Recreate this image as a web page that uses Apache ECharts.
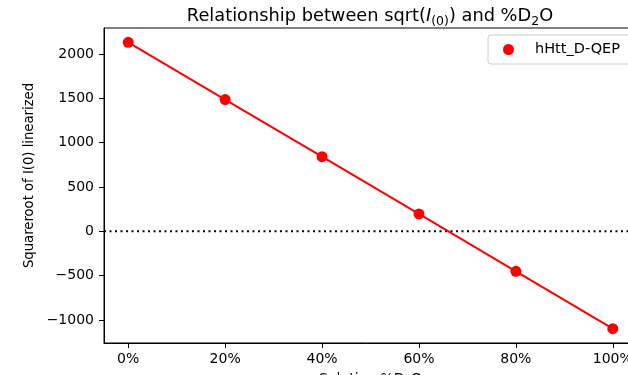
<!DOCTYPE html>
<html>
<head>
<meta charset="utf-8">
<script src="https://cdn.jsdelivr.net/npm/echarts@6/dist/echarts.min.js"></script>
<style>
  html, body { margin: 0; padding: 0; background: #fff; }
  #chart { width: 628px; height: 375px; }
</style>
</head>
<body>
<div id="chart"></div>
<script>
// D2O content of the solution (%) and the linearised sqrt(I(0)) values
const d2oPercent = [0, 20, 40, 60, 80, 100];
const sqrtI0 = [2130, 1485, 842, 196, -450, -1097];
const seriesName = 'hHtt_D-QEP';
const xTicks = [0, 20, 40, 60, 80, 100];
const yTicks = [-1000, -500, 0, 500, 1000, 1500, 2000];
const xRange = [-5, 105];
const yRange = [-1258, 2292];

const font = 'DejaVu Sans';
const points = d2oPercent.map((x, i) => [x, sqrtI0[i]]);

const chart = echarts.init(document.getElementById('chart'), null, { renderer: 'canvas' });
chart.setOption({
  animation: false,
  backgroundColor: '#fff',
  textStyle: { fontFamily: font },
  title: {
    text: '{n|Relationship between sqrt(}{i|I}{s|(0)}{n|) and %D}{s|2}{n|O}',
    left: 365,
    textAlign: 'center',
    top: 0,
    textStyle: {
      fontWeight: 'normal',
      rich: {
        n: { fontFamily: font, fontSize: 17.8, fontWeight: 'normal', color: '#000', lineHeight: 23 },
        i: { fontFamily: font, fontSize: 17.8, fontWeight: 'normal', fontStyle: 'italic', color: '#000', lineHeight: 23 },
        s: { fontFamily: font, fontSize: 12.5, fontWeight: 'normal', color: '#000', lineHeight: 23, padding: [10, 0, 0, 0] }
      }
    }
  },
  legend: {
    left: 488,
    top: 35,
    data: [seriesName],
    icon: 'circle',
    itemWidth: 11,
    itemHeight: 11,
    padding: [7, 200, 7, 15],
    backgroundColor: '#fff',
    borderColor: '#cccccc',
    borderWidth: 1,
    borderRadius: 3,
    textStyle: { fontFamily: font, fontSize: 14.5, color: '#000', padding: [0, 0, 0, 16] }
  },
  grid: {
    left: 104, top: 28, right: -9, bottom: 32,
    outerBoundsMode: 'none',
    containLabel: false,
    show: true, borderColor: '#000', borderWidth: 1, backgroundColor: 'transparent'
  },
  xAxis: {
    type: 'value',
    min: xRange[0], max: xRange[1],
    name: 'Solution %D{s|2}O',
    nameLocation: 'middle',
    nameGap: 28,
    nameTextStyle: {
      fontFamily: font, fontSize: 14, color: '#000',
      rich: { s: { fontFamily: font, fontSize: 10, color: '#000', padding: [7, 0, 0, 0] } }
    },
    splitLine: { show: false },
    axisLine: { show: true, onZero: false, lineStyle: { color: '#000', width: 1 } },
    axisTick: { show: true, length: 5, customValues: xTicks, lineStyle: { color: '#000' } },
    axisLabel: {
      customValues: xTicks, margin: 9,
      fontFamily: font, fontSize: 14, color: '#000',
      formatter: v => v + '%'
    }
  },
  yAxis: {
    type: 'value',
    min: yRange[0], max: yRange[1],
    name: 'Squareroot of I(0) linearized',
    nameLocation: 'middle',
    nameGap: 64,
    nameTextStyle: { fontFamily: font, fontSize: 13.2, color: '#000', padding: [0, 0, 0, 20] },
    splitLine: { show: false },
    axisLine: { show: true, onZero: false, lineStyle: { color: '#000', width: 1 } },
    axisTick: { show: true, length: 5, customValues: yTicks, lineStyle: { color: '#000' } },
    axisLabel: {
      customValues: yTicks, margin: 10,
      fontFamily: font, fontSize: 14, color: '#000',
      formatter: v => (v < 0 ? '\u2212' + Math.abs(v) : String(v))
    }
  },
  series: [
    {
      // zero reference line across the full width
      type: 'line',
      data: [[xRange[0], 0], [xRange[1], 0]],
      symbol: 'none',
      silent: true,
      lineStyle: { color: '#000', width: 2, type: [2, 3.5] },
      z: 1
    },
    {
      type: 'line',
      data: points,
      symbol: 'none',
      silent: true,
      lineStyle: { color: '#ff0000', width: 2 },
      z: 2
    },
    {
      name: seriesName,
      type: 'scatter',
      data: points,
      symbol: 'circle',
      symbolSize: 11,
      itemStyle: { color: '#ff0000', opacity: 1 },
      z: 3
    }
  ]
});
</script>
</body>
</html>
